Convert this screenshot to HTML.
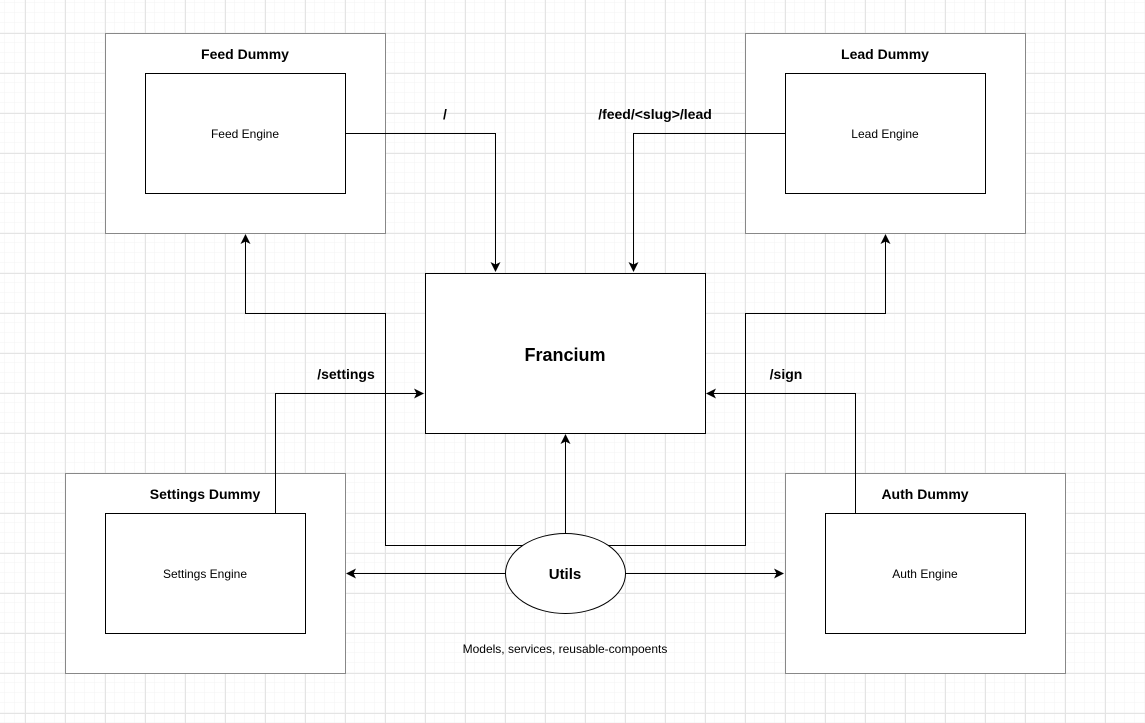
<!DOCTYPE html>
<html><head><meta charset="utf-8"><style>
html,body{margin:0;padding:0;background:#fff;}
svg{display:block;}
text{font-family:"Liberation Sans",Arial,sans-serif;}
</style></head><body>
<svg width="1145" height="723" viewBox="0 0 1145 723" xmlns="http://www.w3.org/2000/svg">
<defs>
<pattern id="minor" width="10" height="10" patternUnits="userSpaceOnUse" x="5" y="3">
<path d="M10 0V10M0 10H10" fill="none" stroke="#f3f3f3" stroke-width="1"/>
</pattern>
<pattern id="major" width="40" height="40" patternUnits="userSpaceOnUse" x="25" y="33">
<path d="M0.5 0V40M0 0.5H40" fill="none" stroke="#e4e4e4" stroke-width="1"/>
</pattern>
<marker id="ar" markerWidth="10" markerHeight="10" refX="9" refY="5" orient="auto" markerUnits="userSpaceOnUse">
<path d="M0 0L10 5L0 10L2.5 5Z" fill="#000"/>
</marker>
</defs>
<rect width="1145" height="723" fill="#fff"/>
<rect width="1145" height="723" fill="url(#minor)"/>
<rect width="1145" height="723" fill="url(#major)"/>

<g fill="#fff" stroke="#888" stroke-width="1">
<rect x="105.5" y="33.5" width="280" height="200"/>
<rect x="745.5" y="33.5" width="280" height="200"/>
<rect x="65.5" y="473.5" width="280" height="200"/>
<rect x="785.5" y="473.5" width="280" height="200"/>
</g>
<g fill="#fff" stroke="#000" stroke-width="1">
<rect x="145.5" y="73.5" width="200" height="120"/>
<rect x="785.5" y="73.5" width="200" height="120"/>
<rect x="105.5" y="513.5" width="200" height="120"/>
<rect x="825.5" y="513.5" width="200" height="120"/>
<rect x="425.5" y="273.5" width="280" height="160"/>
</g>

<g fill="none" stroke="#000" stroke-width="1">
<path d="M345.5 133.5H495.5V271" marker-end="url(#ar)"/>
<path d="M785.5 133.5H633.5V271" marker-end="url(#ar)"/>
<path d="M275.5 513.5V393.5H423" marker-end="url(#ar)"/>
<path d="M855.5 513.5V393.5H707" marker-end="url(#ar)"/>
<path d="M565.5 533V435" marker-end="url(#ar)"/>
<path d="M505 573.5H347" marker-end="url(#ar)"/>
<path d="M625 573.5H783" marker-end="url(#ar)"/>
<path d="M524 545.5H385.5V313.5H245.5V235" marker-end="url(#ar)"/>
<path d="M607 545.5H745.5V313.5H885.5V235" marker-end="url(#ar)"/>
</g>
<ellipse cx="565.5" cy="573.5" rx="60" ry="40" fill="#fff" stroke="#000" stroke-width="1"/>

<g font-size="14" font-weight="bold" text-anchor="middle" fill="#000">
<text x="245" y="59">Feed Dummy</text>
<text x="885" y="59">Lead Dummy</text>
<text x="205" y="499">Settings Dummy</text>
<text x="925" y="499">Auth Dummy</text>
<text x="445" y="119">/</text>
<text x="655" y="119">/feed/&lt;slug&gt;/lead</text>
<text x="346" y="379">/settings</text>
<text x="786" y="379">/sign</text>
<text x="565" y="579" font-size="15">Utils</text>
<text x="565" y="361" font-size="18">Francium</text>
</g>
<g font-size="12" text-anchor="middle" fill="#000">
<text x="245" y="138">Feed Engine</text>
<text x="885" y="138">Lead Engine</text>
<text x="205" y="578">Settings Engine</text>
<text x="925" y="578">Auth Engine</text>
<text x="565" y="653">Models, services, reusable-compoents</text>
</g>
</svg>
</body></html>
